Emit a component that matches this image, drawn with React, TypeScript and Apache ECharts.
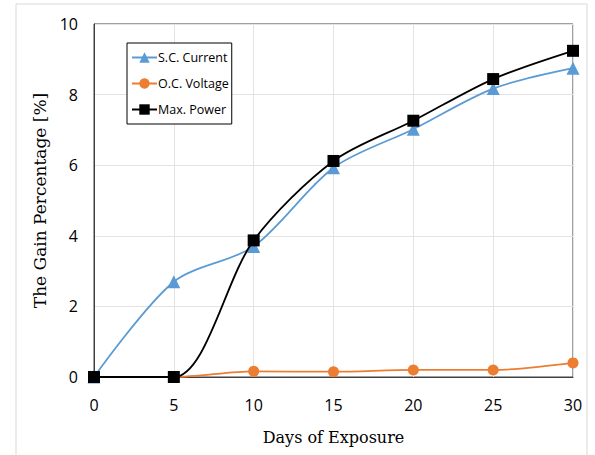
import React, { useEffect, useRef } from "react";
import * as echarts from "echarts";

const days = [0, 5, 10, 15, 20, 25, 30];
const scCurrent = [0, 2.7, 3.7, 5.93, 7.02, 8.17, 8.75];
const ocVoltage = [0, 0, 0.16, 0.15, 0.2, 0.2, 0.4];
const maxPower = [0, 0, 3.87, 6.12, 7.26, 8.44, 9.24];
const seriesNames = ["S.C. Current", "O.C. Voltage", "Max. Power"];

const toPairs = (ys: number[]) => days.map((d, i) => [d, ys[i]]);

export default function App() {
  const ref = useRef<HTMLDivElement>(null);
  useEffect(() => {
    const chart = echarts.init(ref.current!, null, { renderer: "svg" });
    const tickFont = { fontFamily: "Open Sans", fontSize: 16, color: "#000" };
    chart.setOption({
      animation: false,
      backgroundColor: "#fff",
      graphic: [
        {
          type: "rect",
          shape: { x: 16, y: 4, width: 571, height: 460 },
          style: { fill: "none", stroke: "#d9d9d9", lineWidth: 1 },
          silent: true,
        },
      ],
      grid: {
        left: 94,
        right: 22,
        top: 24,
        bottom: 78,
        show: true,
        borderColor: "#404040",
        borderWidth: 1,
        backgroundColor: "transparent",
      },
      legend: {
        left: 127,
        top: 43,
        orient: "vertical",
        data: seriesNames,
        backgroundColor: "#fff",
        borderColor: "#000",
        borderWidth: 1,
        borderRadius: 0,
        padding: [8, 3, 8, 4],
        itemGap: 13,
        itemWidth: 25,
        itemHeight: 13,
        textStyle: { fontFamily: "Open Sans", fontSize: 12.5, color: "#000", padding: [0, 0, 0, -4] },
      },
      xAxis: {
        type: "value",
        min: 0,
        max: 30,
        interval: 5,
        name: "Days of Exposure",
        nameLocation: "middle",
        nameGap: 52,
        nameTextStyle: { fontFamily: "DejaVu Serif", fontSize: 16, color: "#000" },
        axisLine: { show: true, lineStyle: { color: "#404040", width: 1 } },
        axisTick: { show: false },
        axisLabel: { ...tickFont, margin: 20 },
        splitLine: { show: true, lineStyle: { color: "#e3e3e3", width: 1 } },
      },
      yAxis: {
        type: "value",
        min: 0,
        max: 10,
        interval: 2,
        name: "The Gain Percentage [%]",
        nameLocation: "middle",
        nameGap: 46,
        nameTextStyle: { fontFamily: "DejaVu Serif", fontSize: 17, color: "#000" },
        axisLine: { show: true, lineStyle: { color: "#404040", width: 1 } },
        axisTick: { show: false },
        axisLabel: { ...tickFont, margin: 16 },
        splitLine: { show: true, lineStyle: { color: "#e3e3e3", width: 1 } },
      },
      series: [
        {
          name: seriesNames[0],
          type: "line",
          smooth: 0.3,
          data: toPairs(scCurrent),
          symbol: "triangle",
          symbolSize: 13,
          itemStyle: { color: "#5b9bd5" },
          lineStyle: { color: "#5b9bd5", width: 1.8 },
          z: 2,
        },
        {
          name: seriesNames[1],
          type: "line",
          smooth: 0.3,
          data: toPairs(ocVoltage),
          symbol: "circle",
          symbolSize: 11,
          itemStyle: { color: "#ed7d31" },
          lineStyle: { color: "#ed7d31", width: 1.8 },
          z: 3,
        },
        {
          name: seriesNames[2],
          type: "line",
          smooth: 0.3,
          data: toPairs(maxPower),
          symbol: "rect",
          symbolSize: 12,
          itemStyle: { color: "#000" },
          lineStyle: { color: "#000", width: 1.8 },
          z: 4,
        },
      ],
    });
    return () => chart.dispose();
  }, []);
  return (
    <div
      ref={ref}
      style={{ position: "fixed", left: 0, top: 0, width: 595, height: 455 }}
    />
  );
}
